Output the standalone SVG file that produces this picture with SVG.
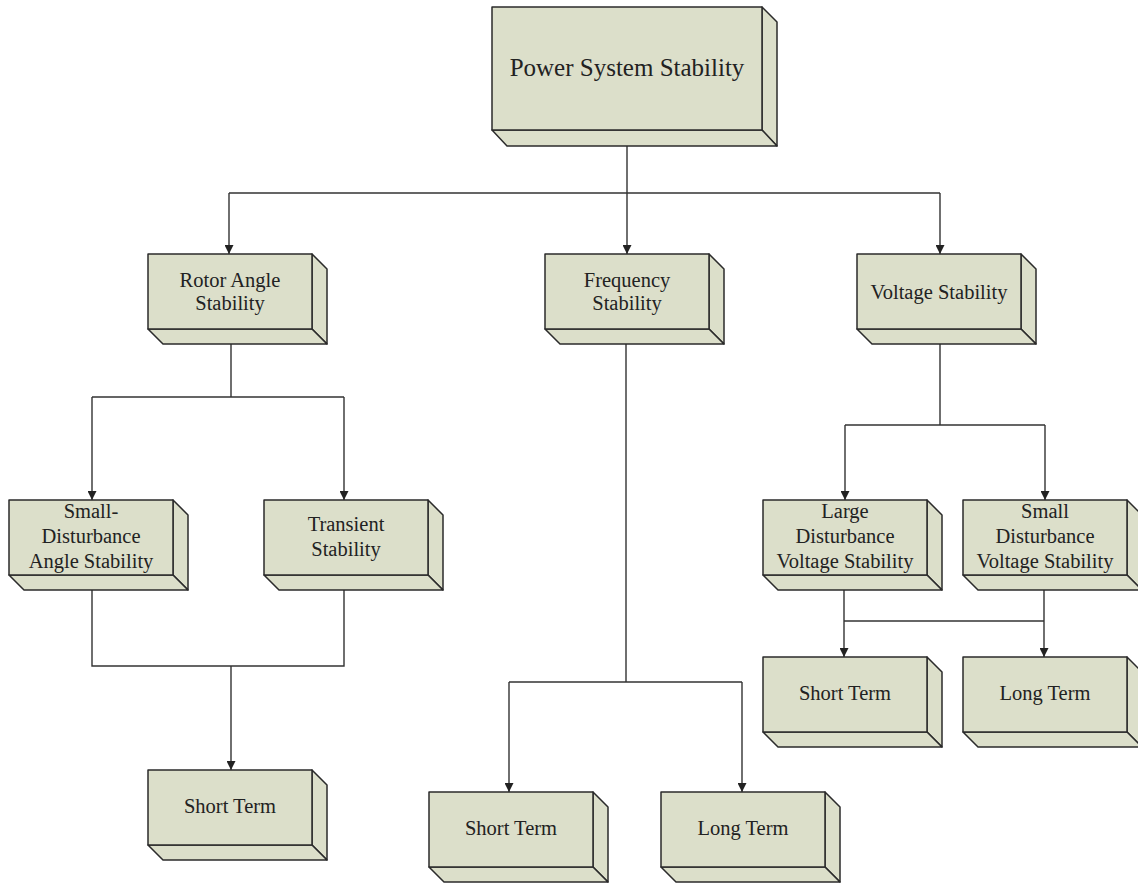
<svg xmlns="http://www.w3.org/2000/svg" xmlns:xlink="http://www.w3.org/1999/xlink" width="1138" height="884" viewBox="0 0 1138 884">
<style>
.f{fill:#dcdfca;stroke:#2b2b2b;stroke-width:1.5;stroke-linejoin:round}
.t{font-family:"Liberation Serif","Times New Roman",serif;font-size:20.5px;fill:#222;text-anchor:middle}
.big{font-size:25px}
.c{fill:none;stroke:#333;stroke-width:1.4}
</style>
<defs>
<marker id="a" viewBox="0 0 10 10" refX="10" refY="5" markerWidth="9" markerHeight="9" markerUnits="userSpaceOnUse" orient="auto">
<path d="M0,0 L10,5 L0,10 z" fill="#222"/>
</marker>
<g id="box">
<polygon class="f" points="164,0 179,15 179,90 164,75"/>
<polygon class="f" points="0,75 15,90 179,90 164,75"/>
<rect class="f" x="0" y="0" width="164" height="75"/>
</g>
</defs>
<rect width="1138" height="884" fill="#fff"/>
<g id="connectors">
<path class="c" d="M627,130 V193 M229,193 H940"/>
<path class="c" d="M229,193 V254" marker-end="url(#a)"/>
<path class="c" d="M627,193 V254" marker-end="url(#a)"/>
<path class="c" d="M940,193 V254" marker-end="url(#a)"/>
<path class="c" d="M231,329 V397 M92,397 H344"/>
<path class="c" d="M92,397 V500" marker-end="url(#a)"/>
<path class="c" d="M344,397 V500" marker-end="url(#a)"/>
<path class="c" d="M92,575 V666 H344 V575"/>
<path class="c" d="M231,666 V770" marker-end="url(#a)"/>
<path class="c" d="M626,329 V682 M509,682 H742"/>
<path class="c" d="M509,682 V792" marker-end="url(#a)"/>
<path class="c" d="M742,682 V792" marker-end="url(#a)"/>
<path class="c" d="M940,329 V425 M845,425 H1045"/>
<path class="c" d="M845,425 V500" marker-end="url(#a)"/>
<path class="c" d="M1045,425 V500" marker-end="url(#a)"/>
<path class="c" d="M844,621 H1044"/>
<path class="c" d="M844,576 V657" marker-end="url(#a)"/>
<path class="c" d="M1044,576 V657" marker-end="url(#a)"/>
</g>
<g id="power-system-stability">
<polygon class="f" points="762,7 777,22 777,146 762,130"/>
<polygon class="f" points="492,130 507,146 777,146 762,130"/>
<rect class="f" x="492" y="7" width="270" height="123"/>
<text class="t big" x="627" y="76">Power System Stability</text>
</g>
<g id="rotor-angle-stability">
<use xlink:href="#box" x="148" y="254"/>
<text class="t" x="230" y="287">Rotor Angle</text>
<text class="t" x="230" y="310">Stability</text>
</g>
<g id="frequency-stability">
<use xlink:href="#box" x="545" y="254"/>
<text class="t" x="627" y="287">Frequency</text>
<text class="t" x="627" y="310">Stability</text>
</g>
<g id="voltage-stability">
<use xlink:href="#box" x="857" y="254"/>
<text class="t" x="939" y="299">Voltage Stability</text>
</g>
<g id="small-disturbance-angle-stability">
<use xlink:href="#box" x="9" y="500"/>
<text class="t" x="91" y="518">Small-</text>
<text class="t" x="91" y="543">Disturbance</text>
<text class="t" x="91" y="568">Angle Stability</text>
</g>
<g id="transient-stability">
<use xlink:href="#box" x="264" y="500"/>
<text class="t" x="346" y="531">Transient</text>
<text class="t" x="346" y="556">Stability</text>
</g>
<g id="large-disturbance-voltage-stability">
<use xlink:href="#box" x="763" y="500"/>
<text class="t" x="845" y="518">Large</text>
<text class="t" x="845" y="543">Disturbance</text>
<text class="t" x="845" y="568">Voltage Stability</text>
</g>
<g id="small-disturbance-voltage-stability">
<use xlink:href="#box" x="963" y="500"/>
<text class="t" x="1045" y="518">Small</text>
<text class="t" x="1045" y="543">Disturbance</text>
<text class="t" x="1045" y="568">Voltage Stability</text>
</g>
<g id="short-term-angle">
<use xlink:href="#box" x="148" y="770"/>
<text class="t" x="230" y="813">Short Term</text>
</g>
<g id="short-term-frequency">
<use xlink:href="#box" x="429" y="792"/>
<text class="t" x="511" y="835">Short Term</text>
</g>
<g id="long-term-frequency">
<use xlink:href="#box" x="661" y="792"/>
<text class="t" x="743" y="835">Long Term</text>
</g>
<g id="short-term-voltage">
<use xlink:href="#box" x="763" y="657"/>
<text class="t" x="845" y="700">Short Term</text>
</g>
<g id="long-term-voltage">
<use xlink:href="#box" x="963" y="657"/>
<text class="t" x="1045" y="700">Long Term</text>
</g>
</svg>
